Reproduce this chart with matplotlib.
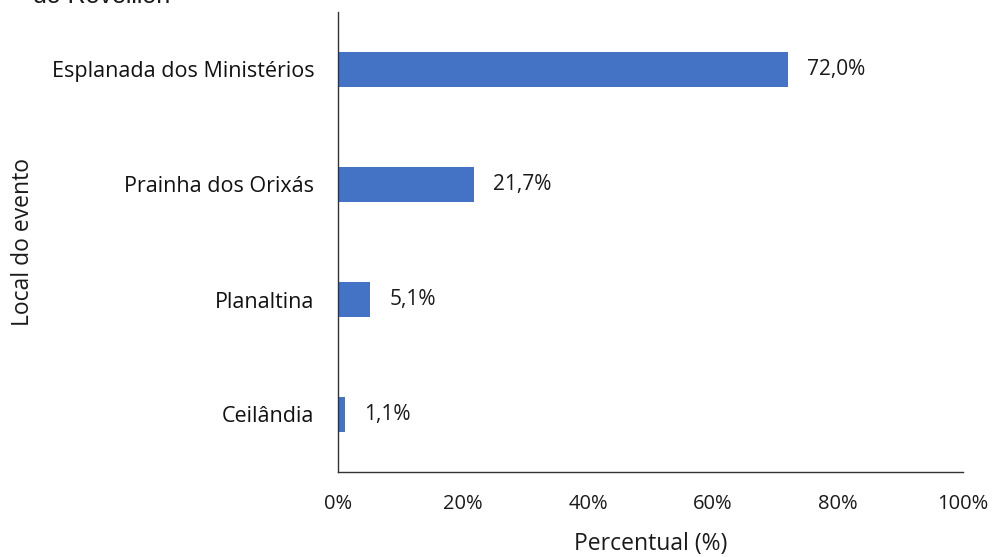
import matplotlib
matplotlib.use("Agg")
import matplotlib.pyplot as plt
from matplotlib.ticker import FuncFormatter

categories = ["Ceilândia", "Planaltina", "Prainha dos Orixás", "Esplanada dos Ministérios"]
values = [1.1, 5.1, 21.7, 72.0]
xticks = [0, 20, 40, 60, 80, 100]

plt.rcParams['font.family'] = ['Open Sans', 'DejaVu Sans']

fig = plt.figure(figsize=(9.94, 5.57), dpi=100)
ax = fig.add_axes([338/994, 85/557, 625/994, 460/557])

ypos = list(range(len(categories)))
ax.barh(ypos, values, height=0.3, color="#4472C4")
for y, v in zip(ypos, values):
    ax.text(v + 3.1, y, f"{v:.1f}%".replace(".", ","), va="center", ha="left",
            fontsize=15, color="#1a1a1a")

ax.set_xlim(0, 100)
ax.set_ylim(-0.5, len(categories) - 0.5)
ax.set_yticks(ypos)
ax.set_yticklabels(categories, fontsize=15.5, color="#111111")
ax.set_xticks(xticks)
ax.xaxis.set_major_formatter(FuncFormatter(lambda x, p: f"{int(x)}%"))
ax.tick_params(axis="x", length=0, pad=16, labelsize=14.5, labelcolor="#1a1a1a")
ax.tick_params(axis="y", length=0, pad=17)
for s in ["top", "right"]:
    ax.spines[s].set_visible(False)
for s in ["left", "bottom"]:
    ax.spines[s].set_color("#333333")
    ax.spines[s].set_linewidth(1.0)

ax.set_xlabel("Percentual (%)", fontsize=16.5, labelpad=12.5, color="#1a1a1a")
ax.set_ylabel("Local do evento", fontsize=16.5, color="#1a1a1a")
ax.yaxis.set_label_coords(-303/625, 0.5)

fig.text(33/994, 1.0 - 3/557, "do Réveillon", fontsize=18, va="baseline", ha="left",
         color="#1a1a1a", family=["Liberation Sans"])

fig.savefig("out.png", dpi=100)
